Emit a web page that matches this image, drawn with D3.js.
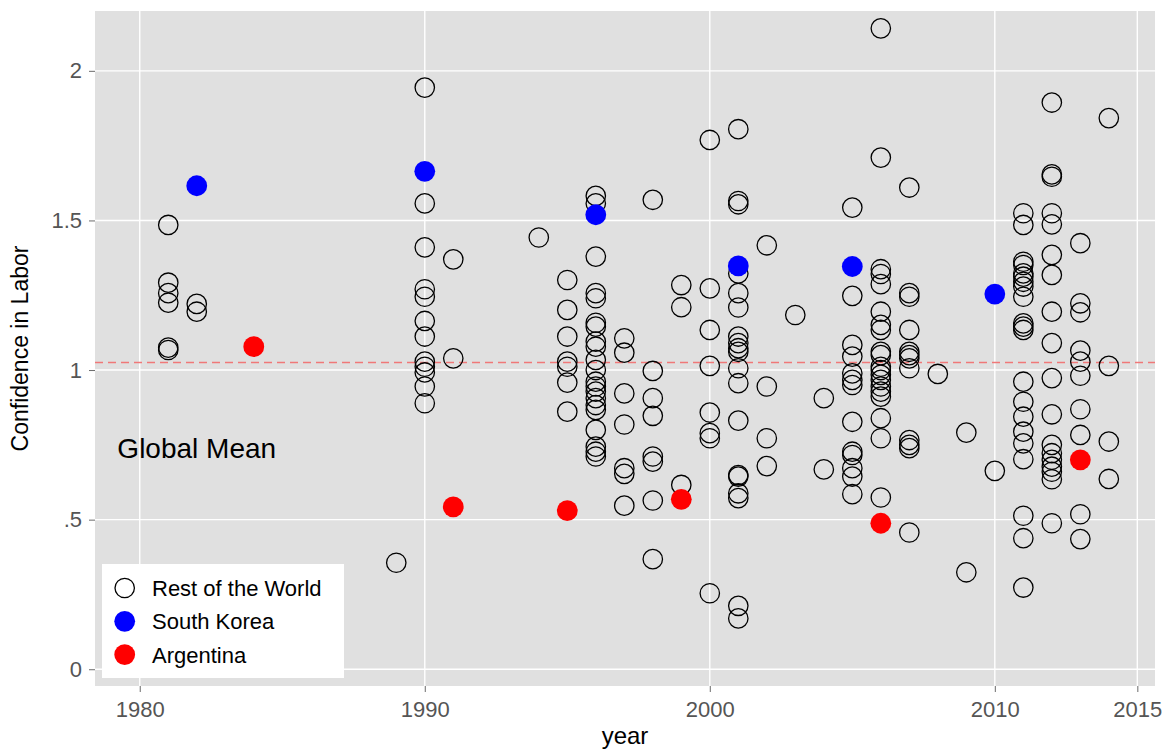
<!DOCTYPE html>
<html>
<head>
<meta charset="utf-8">
<script src="https://cdn.jsdelivr.net/npm/d3@7"></script>
<style>
  body { margin: 0; background: #fff; }
  text { font-family: "Liberation Sans", Arial, sans-serif; }
</style>
</head>
<body>
<div class="content"></div>
<script>
// data
var restYears = [1981, 1982, 1989, 1990, 1991, 1994, 1995, 1996, 1997, 1998, 1999, 2000,
                 2001, 2002, 2003, 2004, 2005, 2006, 2007, 2008, 2009, 2010, 2011, 2012, 2013, 2014];
var restValues = [
  [1.485, 1.292, 1.257, 1.225, 1.075, 1.067],
  [1.221, 1.195],
  [0.356],
  [1.944, 1.557, 1.410, 1.270, 1.245, 1.164, 1.112, 1.028, 1.011, 0.992, 0.945, 0.889],
  [1.370, 1.039],
  [1.443],
  [1.301, 1.201, 1.112, 1.028, 1.011, 0.958, 0.861],
  [1.582, 1.557, 1.379, 1.257, 1.240, 1.158, 1.145, 1.095, 1.078, 1.034, 1.000, 0.961, 0.945, 0.928, 0.906, 0.883, 0.867, 0.800, 0.744, 0.727, 0.711],
  [1.106, 1.058, 0.922, 0.818, 0.672, 0.653, 0.547],
  [1.569, 0.997, 0.906, 0.847, 0.711, 0.694, 0.564, 0.368],
  [1.284, 1.210, 0.616],
  [1.769, 1.273, 1.134, 1.014, 0.858, 0.789, 0.772, 0.254],
  [1.805, 1.565, 1.554, 1.323, 1.257, 1.209, 1.112, 1.090, 1.073, 1.061, 1.006, 0.956, 0.831, 0.649, 0.644, 0.588, 0.572, 0.212, 0.170],
  [1.417, 0.945, 0.772, 0.679],
  [1.184],
  [0.906, 0.668],
  [1.543, 1.248, 1.084, 1.045, 0.989, 0.967, 0.950, 0.827, 0.727, 0.716, 0.672, 0.644, 0.585],
  [2.142, 1.710, 1.337, 1.321, 1.287, 1.195, 1.151, 1.134, 1.061, 1.050, 1.011, 1.000, 0.984, 0.967, 0.945, 0.928, 0.911, 0.839, 0.772, 0.574],
  [1.610, 1.257, 1.245, 1.134, 1.061, 1.050, 1.039, 1.006, 0.766, 0.750, 0.739, 0.457],
  [0.987],
  [0.791, 0.324],
  [0.663],
  [1.524, 1.485, 1.362, 1.351, 1.323, 1.312, 1.295, 1.279, 1.245, 1.156, 1.145, 1.134, 0.961, 0.894, 0.844, 0.794, 0.755, 0.702, 0.513, 0.438, 0.273],
  [1.894, 1.654, 1.646, 1.524, 1.487, 1.385, 1.318, 1.195, 1.090, 0.973, 0.852, 0.750, 0.722, 0.700, 0.677, 0.660, 0.635, 0.488],
  [1.424, 1.223, 1.193, 1.065, 1.028, 0.981, 0.869, 0.783, 0.518, 0.435],
  [1.842, 1.014, 0.761, 0.636]
];
var koreaYears = [1982, 1990, 1996, 2001, 2005, 2010];
var koreaValues = [1.616, 1.664, 1.519, 1.348, 1.346, 1.254];
var argYears = [1984, 1991, 1995, 1999, 2006, 2013];
var argValues = [1.078, 0.543, 0.530, 0.568, 0.488, 0.700];
var globalMean = 1.025;
var xTicks = [1980, 1990, 2000, 2010, 2015];
var yTicks = [0, 0.5, 1, 1.5, 2];
var yTickLabels = ["0", ".5", "1", "1.5", "2"];
var legendLabels = ["Rest of the World", "South Korea", "Argentina"];

// set the dimensions and margins of the graph
var margin = {top: 11, right: 16, bottom: 65, left: 95},
    width = 1171 - margin.left - margin.right,
    height = 751 - margin.top - margin.bottom;

var svg = d3.select(".content")
    .append("svg")
    .attr("width", width + margin.left + margin.right)
    .attr("height", height + margin.top + margin.bottom)
    .append("g")
    .attr("transform", "translate(" + margin.left + "," + margin.top + ")");

var x = d3.scaleLinear().domain([1978.43, 2015.62]).range([0, width]);
var y = d3.scaleLinear().domain([-0.056, 2.2]).range([height, 0]);

// panel
svg.append("rect")
    .attr("width", width)
    .attr("height", height)
    .attr("fill", "#e0e0e0");

// grid
svg.selectAll(".gx").data(xTicks).enter().append("line")
    .attr("x1", function(d) { return x(d); })
    .attr("x2", function(d) { return x(d); })
    .attr("y1", 0).attr("y2", height)
    .attr("stroke", "#fff").attr("stroke-width", 1.4);
svg.selectAll(".gy").data(yTicks).enter().append("line")
    .attr("y1", function(d) { return y(d); })
    .attr("y2", function(d) { return y(d); })
    .attr("x1", 0).attr("x2", width)
    .attr("stroke", "#fff").attr("stroke-width", 1.4);

// axes
var xAxis = svg.append("g")
    .attr("transform", "translate(0," + height + ")")
    .call(d3.axisBottom(x).tickValues(xTicks).tickFormat(d3.format("d")).tickSize(6).tickPadding(9));
var yAxis = svg.append("g")
    .call(d3.axisLeft(y).tickValues(yTicks).tickFormat(function(d, i) { return yTickLabels[i]; }).tickSize(6).tickPadding(7));
[xAxis, yAxis].forEach(function(a) {
    a.select(".domain").remove();
    a.selectAll("line").attr("stroke", "#6b6b6b");
    a.selectAll("text").attr("fill", "#555").style("font-size", "22px");
});

svg.append("text")
    .attr("x", width / 2)
    .attr("y", height + 58)
    .attr("text-anchor", "middle")
    .style("font-size", "24px")
    .text("year");
svg.append("text")
    .attr("transform", "translate(" + (-67) + "," + (height / 2) + ") rotate(-90)")
    .attr("text-anchor", "middle")
    .style("font-size", "23px")
    .text("Confidence in Labor");

// global mean line
svg.append("line")
    .attr("x1", 0).attr("x2", width)
    .attr("y1", y(globalMean)).attr("y2", y(globalMean))
    .attr("stroke", "#f07878")
    .attr("stroke-width", 1.5)
    .attr("stroke-dasharray", "8,5");

svg.append("text")
    .attr("x", x(1982))
    .attr("y", y(0.705))
    .attr("text-anchor", "middle")
    .style("font-size", "28px")
    .text("Global Mean");

// rest of the world
var rest = [];
restYears.forEach(function(yr, i) {
    restValues[i].forEach(function(v) { rest.push({x: yr, y: v}); });
});
svg.selectAll(".rest").data(rest).enter().append("circle")
    .attr("cx", function(d) { return x(d.x); })
    .attr("cy", function(d) { return y(d.y); })
    .attr("r", 9.7)
    .attr("fill", "none")
    .attr("stroke", "#000")
    .attr("stroke-width", 1.3);

svg.selectAll(".kor").data(koreaYears).enter().append("circle")
    .attr("cx", function(d) { return x(d); })
    .attr("cy", function(d, i) { return y(koreaValues[i]); })
    .attr("r", 10.4)
    .attr("fill", "#0000ff");

svg.selectAll(".arg").data(argYears).enter().append("circle")
    .attr("cx", function(d) { return x(d); })
    .attr("cy", function(d, i) { return y(argValues[i]); })
    .attr("r", 10.4)
    .attr("fill", "#ff0000");

// legend
var legend = svg.append("g").attr("transform", "translate(7,553)");
legend.append("rect")
    .attr("width", 242).attr("height", 114)
    .attr("fill", "#fff");
legendLabels.forEach(function(lab, i) {
    var cy = 24 + i * 33.3;
    var c = legend.append("circle").attr("cx", 22.7).attr("cy", cy).attr("r", i == 0 ? 9.7 : 10.4);
    if (i == 0) c.attr("fill", "none").attr("stroke", "#000").attr("stroke-width", 1.3);
    else c.attr("fill", i == 1 ? "#0000ff" : "#ff0000");
    legend.append("text")
        .attr("x", 50).attr("y", cy + 8)
        .style("font-size", "22px")
        .text(lab);
});
</script>
</body>
</html>
